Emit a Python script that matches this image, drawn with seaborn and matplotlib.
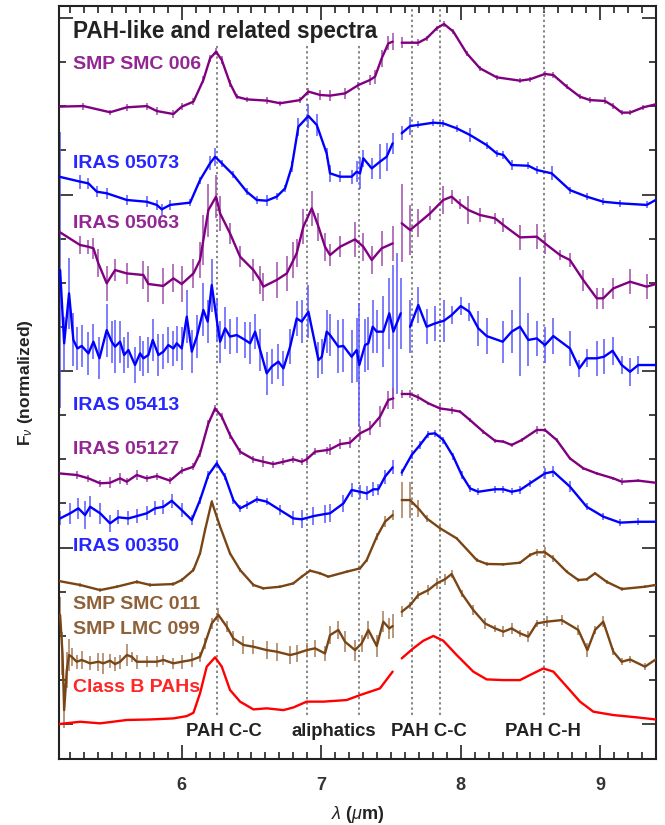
import numpy as np
import pandas as pd
import matplotlib
matplotlib.use("Agg")
import matplotlib.pyplot as plt
import seaborn as sns

# ---------------- data (wavelength in micron, offset normalized flux) ----------------
SMC006_WL = [5.121,5.295,5.486,5.606,5.749,5.821,5.940,6.000,6.084,6.155,6.203,6.246,6.287,6.346,6.394,6.466,6.609,6.705,6.848,6.908,6.992,7.063,7.171,7.266,7.350,7.386,7.433,7.481,7.512,
             7.577,7.696,7.756,7.828,7.880,7.947,8.043,8.138,8.258,8.425,8.497,8.604,8.664,8.760,8.855,8.927,9.034,9.094,9.154,9.214,9.309,9.398]
SMC006_FLUX = [3.498,3.501,3.466,3.494,3.501,3.473,3.456,3.498,3.526,3.649,3.771,3.809,3.762,3.630,3.554,3.539,3.532,3.517,3.535,3.583,3.564,3.560,3.573,3.620,3.649,3.668,3.771,3.856,3.866,
               3.860,3.860,3.885,3.942,3.966,3.923,3.800,3.715,3.664,3.645,3.653,3.683,3.677,3.611,3.554,3.535,3.530,3.501,3.464,3.464,3.494,3.511]
SMC006_ERR = [0.02,0.02,0.015,0.02,0.02,0.02,0.025,0.02,0.02,0.02,0.02,0.02,0.02,0.02,0.015,0.015,0.02,0.015,0.015,0.02,0.03,0.03,0.03,0.02,0.03,0.04,0.05,0.04,0.05,
              0.03,0.02,0.015,0.015,0.015,0.015,0.015,0.015,0.015,0.015,0.015,0.015,0.015,0.015,0.015,0.015,0.02,0.015,0.015,0.015,0.015,0.015]

I05073_WL = [5.121,5.271,5.331,5.391,5.462,5.606,5.749,5.821,5.857,5.916,6.060,6.131,6.203,6.239,6.287,6.370,6.466,6.538,6.609,6.681,6.741,6.789,6.836,6.908,6.968,7.039,7.063,7.135,7.218,7.254,7.278,7.302,7.362,7.421,7.469,7.512,
             7.577,7.637,7.696,7.804,7.875,7.971,8.067,8.186,8.258,8.306,8.365,8.485,8.545,8.652,8.783,8.903,9.022,9.142,9.333,9.398]
I05073_FLUX = [3.101,3.073,3.063,3.016,3.007,2.969,2.959,2.941,2.916,2.941,2.954,3.082,3.177,3.214,3.177,3.111,3.016,2.969,2.965,2.988,3.035,3.158,3.384,3.445,3.394,3.233,3.120,3.101,3.101,3.129,3.120,3.205,3.148,3.186,3.214,3.290,
               3.347,3.388,3.394,3.407,3.403,3.375,3.337,3.280,3.233,3.224,3.167,3.163,3.139,3.120,3.025,2.988,2.959,2.950,2.941,2.969]
I05073_ERR = [0.04,0.04,0.03,0.03,0.03,0.03,0.03,0.03,0.03,0.03,0.02,0.02,0.04,0.05,0.02,0.02,0.02,0.02,0.03,0.02,0.02,0.03,0.05,0.07,0.06,0.03,0.05,0.03,0.04,0.06,0.09,0.05,0.06,0.1,0.08,0.06,
              0.04,0.05,0.02,0.02,0.02,0.02,0.04,0.02,0.02,0.02,0.03,0.02,0.02,0.04,0.02,0.02,0.02,0.02,0.02,0.02]

I05063_WL = [5.121,5.271,5.331,5.367,5.402,5.462,5.522,5.606,5.725,5.761,5.868,5.940,6.000,6.084,6.131,6.155,6.191,6.246,6.275,6.346,6.418,6.514,6.562,6.585,6.681,6.753,6.801,6.824,6.872,6.932,6.980,7.027,7.063,7.135,7.242,7.302,7.362,7.433,7.512,
             7.577,7.637,7.696,7.780,7.875,7.935,7.995,8.055,8.138,8.246,8.306,8.425,8.545,8.604,8.712,8.783,8.879,8.975,9.022,9.094,9.214,9.333,9.398]
I05063_FLUX = [2.789,2.714,2.704,2.695,2.610,2.497,2.572,2.553,2.544,2.493,2.482,2.525,2.493,2.553,2.629,2.742,2.912,2.988,2.893,2.780,2.648,2.572,2.515,2.478,2.516,2.553,2.629,2.667,2.818,2.922,2.818,2.704,2.657,2.704,2.746,2.704,2.629,2.695,2.723,
               2.837,2.799,2.837,2.893,2.969,2.988,2.946,2.912,2.884,2.865,2.827,2.757,2.761,2.723,2.657,2.629,2.515,2.412,2.412,2.468,2.506,2.478,2.493]
I05063_ERR = [0.04,0.05,0.04,0.06,0.08,0.1,0.06,0.06,0.08,0.1,0.1,0.08,0.1,0.08,0.1,0.14,0.15,0.12,0.1,0.06,0.06,0.06,0.08,0.08,0.1,0.1,0.1,0.08,0.1,0.1,0.08,0.08,0.06,0.06,0.1,0.08,0.08,0.1,0.1,
              0.22,0.14,0.08,0.04,0.08,0.04,0.03,0.08,0.04,0.03,0.04,0.07,0.07,0.06,0.03,0.04,0.06,0.06,0.06,0.06,0.07,0.07,0.05]

I05413_WL = [5.128,5.157,5.192,5.223,5.252,5.283,5.331,5.367,5.410,5.462,5.498,5.522,5.558,5.587,5.618,5.665,5.701,5.725,5.761,5.792,5.833,5.869,5.904,5.940,5.964,6.000,6.036,6.072,6.108,6.155,6.186,6.215,6.251,6.275,6.311,6.346,6.394,6.454,6.490,6.526,6.562,6.609,6.645,6.693,6.729,6.777,6.824,6.860,6.908,6.980,7.004,7.039,
             7.063,7.123,7.159,7.218,7.254,7.273,7.314,7.338,7.369,7.398,7.445,7.488,7.517,7.541,7.570,
             7.637,7.696,7.756,7.816,7.880,7.935,8.000,8.062,8.126,8.186,8.301,8.365,8.425,8.485,8.545,8.604,8.664,8.783,8.850,8.903,8.975,9.027,9.089,9.154,9.214,9.273,9.398]
I05413_FLUX = [2.572,2.157,2.440,2.176,2.128,2.142,2.100,2.166,2.072,2.232,2.166,2.138,2.166,2.091,2.119,2.034,2.100,2.072,2.091,2.176,2.091,2.110,2.147,2.128,2.157,2.128,2.308,2.110,2.195,2.346,2.280,2.487,2.289,2.166,2.242,2.195,2.204,2.176,2.157,2.223,2.119,1.987,2.025,2.053,2.015,2.138,2.298,2.280,2.336,2.062,2.081,2.223,
               2.204,2.138,2.142,2.081,2.119,2.034,2.147,2.157,2.251,2.223,2.223,2.327,2.223,2.270,2.327,
               2.251,2.374,2.251,2.270,2.285,2.317,2.368,2.336,2.242,2.198,2.166,2.223,2.251,2.176,2.185,2.147,2.198,2.128,2.015,2.072,2.072,2.081,2.115,2.034,1.996,2.034,2.034]
I05413_ERR = [0.78,0.15,0.2,0.15,0.12,0.12,0.12,0.1,0.12,0.15,0.12,0.15,0.12,0.1,0.1,0.1,0.1,0.1,0.1,0.12,0.12,0.1,0.1,0.1,0.1,0.12,0.15,0.12,0.12,0.15,0.12,0.15,0.12,0.12,0.12,0.1,0.1,0.1,0.12,0.1,0.12,0.12,0.1,0.1,0.1,0.1,0.1,0.12,0.15,0.1,0.1,0.12,
              0.12,0.15,0.15,0.15,0.18,0.35,0.15,0.15,0.15,0.12,0.2,0.2,0.38,0.4,0.2,
              0.15,0.1,0.1,0.1,0.12,0.05,0.05,0.05,0.1,0.1,0.12,0.12,0.28,0.15,0.1,0.1,0.1,0.1,0.05,0.05,0.1,0.1,0.08,0.05,0.08,0.05,0.05]

I05127_WL = [5.121,5.247,5.331,5.415,5.486,5.558,5.606,5.677,5.749,5.821,5.916,6.000,6.084,6.131,6.191,6.239,6.287,6.346,6.418,6.514,6.585,6.657,6.729,6.800,6.860,6.896,6.956,7.039,7.063,7.135,7.206,7.278,7.350,7.421,7.481,7.517,
             7.577,7.637,7.696,7.768,7.852,7.935,7.995,8.067,8.162,8.246,8.306,8.365,8.437,8.545,8.604,8.688,8.783,8.879,8.975,9.094,9.154,9.273,9.398]
I05127_FLUX = [1.420,1.411,1.392,1.364,1.367,1.392,1.373,1.411,1.392,1.405,1.379,1.435,1.458,1.534,1.703,1.788,1.741,1.637,1.543,1.500,1.486,1.473,1.486,1.500,1.486,1.500,1.543,1.552,1.556,1.586,1.594,1.647,1.675,1.741,1.836,1.845,
               1.870,1.870,1.851,1.817,1.788,1.779,1.770,1.722,1.656,1.605,1.600,1.581,1.609,1.666,1.666,1.609,1.505,1.449,1.420,1.392,1.373,1.379,1.367]
I05127_ERR = [0.02,0.02,0.02,0.02,0.03,0.03,0.02,0.03,0.02,0.02,0.02,0.02,0.02,0.02,0.02,0.02,0.02,0.02,0.02,0.02,0.03,0.02,0.02,0.02,0.02,0.03,0.02,0.02,0.03,0.03,0.03,0.04,0.04,0.06,0.05,0.06,
              0.02,0.02,0.02,0.01,0.02,0.02,0.01,0.01,0.01,0.01,0.01,0.01,0.01,0.02,0.01,0.01,0.01,0.01,0.01,0.01,0.02,0.01,0.01]

I00350_WL = [5.128,5.200,5.259,5.307,5.343,5.415,5.486,5.546,5.618,5.677,5.749,5.809,5.869,5.928,6.000,6.072,6.131,6.191,6.251,6.311,6.370,6.418,6.466,6.538,6.609,6.705,6.800,6.860,6.944,7.027,7.063,7.159,7.218,7.278,7.326,7.374,7.409,7.457,7.512,
             7.577,7.648,7.708,7.768,7.816,7.875,7.947,8.007,8.067,8.126,8.246,8.306,8.365,8.425,8.497,8.604,8.664,8.783,8.903,9.022,9.142,9.273,9.398]
I00350_FLUX = [1.165,1.194,1.222,1.184,1.231,1.194,1.137,1.171,1.165,1.178,1.194,1.222,1.231,1.265,1.212,1.156,1.269,1.411,1.477,1.401,1.269,1.222,1.241,1.273,1.260,1.212,1.165,1.160,1.178,1.190,1.194,1.250,1.326,1.316,1.307,1.330,1.330,1.401,1.454,
               1.424,1.524,1.581,1.643,1.647,1.609,1.515,1.411,1.335,1.316,1.330,1.330,1.316,1.326,1.364,1.420,1.430,1.345,1.231,1.175,1.141,1.146,1.146]
I00350_ERR = [0.04,0.06,0.06,0.08,0.06,0.06,0.05,0.04,0.04,0.04,0.04,0.04,0.04,0.04,0.04,0.03,0.02,0.02,0.02,0.02,0.02,0.02,0.02,0.02,0.02,0.03,0.04,0.05,0.05,0.05,0.05,0.05,0.04,0.04,0.04,0.04,0.03,0.04,0.04,
              0.02,0.02,0.02,0.02,0.02,0.02,0.02,0.02,0.02,0.02,0.02,0.02,0.02,0.02,0.02,0.03,0.03,0.03,0.02,0.02,0.02,0.02,0.02]

SMC011_WL = [5.121,5.271,5.415,5.534,5.677,5.773,5.940,6.000,6.084,6.131,6.167,6.215,6.275,6.346,6.418,6.514,6.585,6.705,6.800,6.860,6.920,6.992,7.051,7.182,7.278,7.326,7.398,7.457,7.512,
             7.577,7.637,7.696,7.756,7.852,7.971,8.115,8.186,8.306,8.425,8.497,8.545,8.604,8.664,8.760,8.843,8.903,8.963,9.046,9.154,9.321,9.398]
SMC011_FLUX = [0.810,0.788,0.759,0.778,0.806,0.788,0.793,0.816,0.873,0.967,1.099,1.260,1.118,0.967,0.873,0.788,0.769,0.778,0.797,0.835,0.869,0.854,0.835,0.863,0.882,0.929,1.061,1.146,1.184,
               1.269,1.269,1.222,1.165,1.109,1.052,0.929,0.907,0.905,0.914,0.958,0.973,0.973,0.939,0.863,0.816,0.820,0.854,0.806,0.765,0.778,0.788]
SMC011_ERR = [0.01,0.01,0.01,0.01,0.01,0.01,0.01,0.01,0.01,0.01,0.01,0.01,0.01,0.01,0.01,0.01,0.01,0.01,0.01,0.01,0.01,0.01,0.01,0.01,0.01,0.01,0.02,0.03,0.03,
              0.1,0.1,0.05,0.02,0.02,0.01,0.01,0.01,0.01,0.01,0.01,0.02,0.03,0.02,0.01,0.01,0.01,0.01,0.01,0.01,0.01,0.01]

LMC099_WL = [5.128,5.145,5.157,5.176,5.192,5.211,5.247,5.283,5.343,5.403,5.438,5.486,5.522,5.558,5.606,5.642,5.677,5.749,5.821,5.869,5.940,6.000,6.072,6.131,6.167,6.215,6.263,6.323,6.370,6.442,6.514,6.609,6.681,6.777,6.824,6.896,6.956,7.027,7.063,7.123,7.171,7.242,7.290,7.338,7.398,7.445,7.488,7.512,
             7.577,7.637,7.696,7.768,7.828,7.887,7.935,8.007,8.090,8.174,8.246,8.306,8.365,8.425,8.485,8.545,8.616,8.724,8.843,8.908,8.963,9.022,9.094,9.154,9.214,9.321,9.398]
LMC099_FLUX = [0.618,0.400,0.079,0.306,0.391,0.381,0.353,0.363,0.344,0.353,0.344,0.359,0.340,0.353,0.391,0.381,0.353,0.353,0.353,0.363,0.344,0.353,0.363,0.381,0.457,0.570,0.618,0.551,0.485,0.448,0.438,0.419,0.410,0.391,0.400,0.419,0.429,0.400,0.504,0.533,0.466,0.419,0.457,0.533,0.442,0.580,0.542,0.555,
               0.636,0.674,0.731,0.759,0.797,0.820,0.850,0.740,0.646,0.570,0.542,0.523,0.542,0.514,0.495,0.570,0.580,0.589,0.533,0.419,0.533,0.580,0.410,0.353,0.366,0.325,0.366]
LMC099_ERR = [0.1,0.12,0.1,0.1,0.09,0.05,0.04,0.05,0.04,0.05,0.06,0.04,0.04,0.04,0.06,0.03,0.04,0.03,0.03,0.03,0.03,0.04,0.04,0.03,0.03,0.03,0.04,0.03,0.04,0.05,0.04,0.05,0.05,0.05,0.05,0.04,0.05,0.04,0.05,0.05,0.06,0.06,0.05,0.05,0.06,0.06,0.06,0.07,
              0.03,0.02,0.02,0.03,0.03,0.03,0.02,0.02,0.03,0.03,0.02,0.03,0.03,0.02,0.03,0.02,0.03,0.03,0.03,0.04,0.02,0.03,0.02,0.02,0.02,0.02,0.02]

CLASSB_WL = [5.121,5.271,5.415,5.606,5.773,5.940,6.036,6.084,6.131,6.179,6.239,6.287,6.346,6.418,6.514,6.609,6.729,6.800,6.896,7.016,7.182,7.278,7.421,7.512,
             7.577,7.660,7.732,7.804,7.875,7.971,8.090,8.186,8.306,8.425,8.497,8.592,8.664,8.760,8.855,8.951,9.094,9.261,9.398]
CLASSB_FLUX = [0.000,0.013,0.004,0.023,0.026,0.032,0.045,0.064,0.174,0.325,0.378,0.325,0.193,0.127,0.083,0.089,0.079,0.094,0.127,0.127,0.136,0.164,0.202,0.297,
               0.372,0.429,0.472,0.499,0.472,0.391,0.297,0.253,0.249,0.249,0.278,0.315,0.297,0.212,0.127,0.070,0.051,0.038,0.026]

NAMES = ["SMP SMC 006", "IRAS 05073", "IRAS 05063", "IRAS 05413", "IRAS 05127",
         "IRAS 00350", "SMP SMC 011", "SMP LMC 099", "Class B PAHs"]
LABEL_Y = [3.734, 3.178, 2.833, 1.803, 1.556, 1.008, 0.680, 0.538, 0.208]
FEATURE_WL = [6.25, 6.9, 7.27, 7.65, 7.85, 8.6]
FEATURE_TEXT = ["PAH C-C", "aliphatics", "PAH C-C", "PAH C-H"]
FEATURE_TEXT_WL = [6.30, 7.09, 7.77, 8.59]

# ---------------- style ----------------
sns.set_theme(style="ticks")
plt.rcParams["font.family"] = ["Liberation Sans", "DejaVu Sans"]
plt.rcParams["mathtext.fontset"] = "custom"
plt.rcParams["mathtext.rm"] = "Liberation Sans:bold"
plt.rcParams["mathtext.it"] = "Liberation Sans:italic"
plt.rcParams["mathtext.bf"] = "Liberation Sans:bold"

PURPLE, BLUE, BROWN, RED = "#800080", "#0000FF", "#7A4515", "#FF0000"
PURPLE_E, BLUE_E, BROWN_E = "#A050A8", "#5A5AFF", "#A57C58"

spectra = [
    (SMC006_WL, SMC006_FLUX, SMC006_ERR, PURPLE, PURPLE_E, 7.55),
    (I05073_WL, I05073_FLUX, I05073_ERR, BLUE, BLUE_E, 7.55),
    (I05063_WL, I05063_FLUX, I05063_ERR, PURPLE, PURPLE_E, 7.55),
    (I05413_WL, I05413_FLUX, I05413_ERR, BLUE, BLUE_E, 7.60),
    (I05127_WL, I05127_FLUX, I05127_ERR, PURPLE, PURPLE_E, 7.55),
    (I00350_WL, I00350_FLUX, I00350_ERR, BLUE, BLUE_E, 7.55),
    (SMC011_WL, SMC011_FLUX, SMC011_ERR, BROWN, BROWN_E, 7.55),
    (LMC099_WL, LMC099_FLUX, LMC099_ERR, BROWN, BROWN_E, 7.55),
    (CLASSB_WL, CLASSB_FLUX, None, RED, None, 7.55),
]
label_colors = [PURPLE, BLUE, PURPLE, BLUE, PURPLE, BLUE, BROWN, BROWN, RED]

fig = plt.figure(figsize=(6.65, 8.25), dpi=100)
ax = fig.add_axes([59/665, 66/825, 597/665, 753/825])

# feature lines
for i, w in enumerate(FEATURE_WL):
    top = 3.86 if i < 3 else 4.07
    ax.plot([w, w], [0.05, top], ls=(0, (1.2, 1.5)), color="#858585", lw=1.4, zorder=1)

for wl, fl, er, col, ecol, gap in spectra:
    wl = np.asarray(wl); fl = np.asarray(fl)
    if er is not None:
        er = np.asarray(er)
        ax.vlines(wl, fl - er, fl + er, color=ecol, lw=1.1, zorder=2)
    df = pd.DataFrame({"wl": wl, "flux": fl, "seg": (wl > gap).astype(int)})
    sns.lineplot(data=df, x="wl", y="flux", units="seg", estimator=None, sort=False,
                 color=col, lw=1.7, ax=ax, legend=False, zorder=3)

for name, ly, c in zip(NAMES, LABEL_Y, label_colors):
    ax.text(5.221, ly, name, color=c, alpha=0.85, fontsize=14, fontweight="bold",
            ha="left", va="center", zorder=5)

ax.text(5.221, 3.922, "PAH-like and related spectra", color="#222222", fontsize=16.3,
        fontweight="bold", ha="left", va="center", zorder=5)

for t, w in zip(FEATURE_TEXT, FEATURE_TEXT_WL):
    ax.text(w, -0.045, t, color="#222222", fontsize=13.3, fontweight="bold",
            ha="center", va="center")

ax.set_xlim(5.12, 9.40)
ax.set_ylim(-0.198, 4.068)
ax.set_xticks([6, 7, 8, 9])
ax.set_xticklabels(["6", "7", "8", "9"])
ax.set_xticks(np.arange(5.2, 9.45, 0.1), minor=True)
ax.set_yticks([0, 1, 2, 3, 4])
ax.set_yticks(np.arange(0, 4.05, 0.25), minor=True)
ax.set_yticklabels([])
ax.tick_params(which="both", direction="in", top=True, right=True, width=1.2, color="#222222")
ax.tick_params(which="major", length=10, labelsize=13, pad=13, labelcolor="#333333")
ax.tick_params(which="minor", length=5)
for lab in ax.get_xticklabels():
    lab.set_fontweight("bold")
for s in ax.spines.values():
    s.set_linewidth(1.5)
    s.set_color("#222222")

ax.set_xlabel(r"$\lambda$ ($\mu$m)", fontsize=13, fontweight="bold", color="#222222", labelpad=7)
ax.set_ylabel(r"$\mathbf{F}_{\nu}$ (normalized)", fontsize=12.5, fontweight="bold", color="#222222", labelpad=4)

fig.savefig("out.png", dpi=100)
